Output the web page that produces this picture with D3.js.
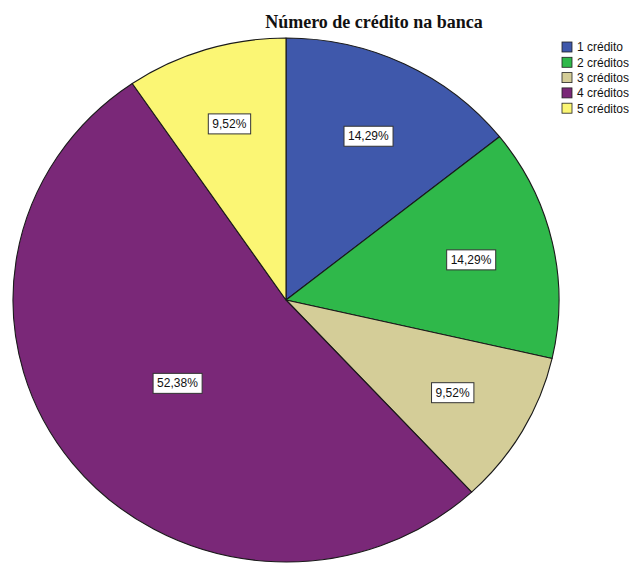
<!DOCTYPE html>
<html>
<head>
<meta charset="utf-8">
<script src="https://cdn.jsdelivr.net/npm/d3@7/dist/d3.min.js"></script>
<style>
  html, body { margin: 0; padding: 0; background: #ffffff; }
  svg { display: block; }
</style>
</head>
<body>
<svg id="chart" width="635" height="563"></svg>
<script>
// Número de crédito na banca — share of respondents by number of loans
const categories = ["1 crédito", "2 créditos", "3 créditos", "4 créditos", "5 créditos"];
const percentages = [14.29, 14.29, 9.52, 52.38, 9.52];
const sliceColors = ["#3f58ab", "#2fb84a", "#d4cd98", "#7a2878", "#fbf674"];
const titleText = "Número de crédito na banca";

const width = 635, height = 563;
const cx = 286, cy = 300;
const rx = 273, ry = 262;           // pie is drawn slightly flattened
const yScale = ry / rx;

const svg = d3.select("#chart");

const color = d3.scaleOrdinal().domain(categories).range(sliceColors);

const pie = d3.pie()
  .sort(null)
  .value(d => d.value)
  .startAngle(0)
  .endAngle(2 * Math.PI);

const data = categories.map((c, i) => ({ category: c, value: percentages[i] }));
const arcs = pie(data);

const arc = d3.arc().innerRadius(0).outerRadius(rx);

const pieG = svg.append("g")
  .attr("transform", `translate(${cx},${cy}) scale(1,${yScale})`);

pieG.selectAll("path.slice")
  .data(arcs)
  .join("path")
  .attr("class", "slice")
  .attr("d", arc)
  .attr("fill", d => color(d.data.category))
  .attr("stroke", "#1a1a1a")
  .attr("stroke-width", 1.1)
  .attr("stroke-linejoin", "round")
  .attr("vector-effect", "non-scaling-stroke");

// percentage labels in white boxes, placed out from each slice's area centroid
const fmt = v => d3.format(".2f")(v).replace(".", ",") + "%";

const labelG = svg.append("g");
arcs.forEach(a => {
  const span = a.endAngle - a.startAngle;
  const mid = (a.startAngle + a.endAngle) / 2;
  const centroid = (4 * Math.sin(span / 2)) / (3 * span);
  const frac = 0.776 * centroid + 0.195;
  const lx = cx + Math.sin(mid) * rx * frac;
  const ly = cy - Math.cos(mid) * ry * frac;

  const g = labelG.append("g").attr("transform", `translate(${lx},${ly})`);
  const t = g.append("text")
    .attr("text-anchor", "middle")
    .attr("dy", "0.36em")
    .attr("font-family", "Liberation Sans, Arial, sans-serif")
    .attr("font-size", 12)
    .attr("fill", "#111")
    .text(fmt(a.data.value));
  const bb = t.node().getBBox();
  const padX = 4, padY = 3;
  g.insert("rect", "text")
    .attr("x", bb.x - padX)
    .attr("y", bb.y - padY)
    .attr("width", bb.width + padX * 2)
    .attr("height", bb.height + padY * 2)
    .attr("fill", "#ffffff")
    .attr("stroke", "#333333")
    .attr("stroke-width", 1);
});

// title
svg.append("text")
  .attr("x", 374)
  .attr("y", 28)
  .attr("text-anchor", "middle")
  .attr("font-family", "Liberation Serif, Times New Roman, serif")
  .attr("font-weight", "bold")
  .attr("font-size", 18)
  .attr("fill", "#111")
  .text(titleText);

// legend
const legend = svg.append("g").attr("transform", "translate(562,42)");
const rowH = 15.3;
const rows = legend.selectAll("g.row")
  .data(categories)
  .join("g")
  .attr("class", "row")
  .attr("transform", (d, i) => `translate(0,${i * rowH})`);

rows.append("rect")
  .attr("width", 10)
  .attr("height", 10)
  .attr("fill", d => color(d))
  .attr("stroke", "#222")
  .attr("stroke-width", 0.8);

rows.append("text")
  .attr("x", 15)
  .attr("y", 5)
  .attr("dy", "0.36em")
  .attr("font-family", "Liberation Sans, Arial, sans-serif")
  .attr("font-size", 12)
  .attr("fill", "#111")
  .text(d => d);
</script>
</body>
</html>
